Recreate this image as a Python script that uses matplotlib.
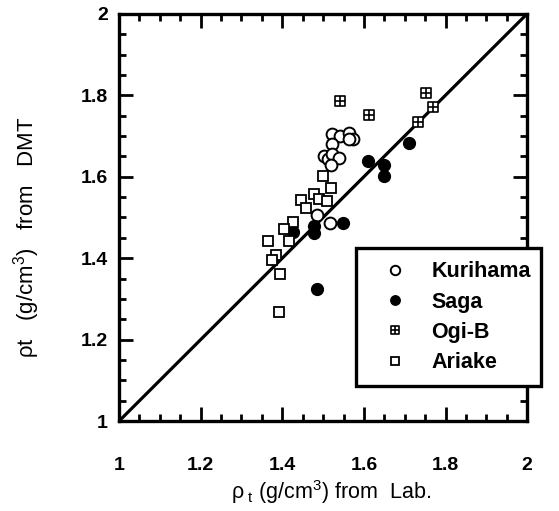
import matplotlib
matplotlib.use("Agg")
import matplotlib.pyplot as plt
import numpy as np
from matplotlib.path import Path

# density pairs: lab value (x) vs DMT estimate (y)
kurihama_lab = [1.523, 1.541, 1.563, 1.573, 1.563, 1.521, 1.501, 1.511, 1.523, 1.538, 1.519, 1.486, 1.516]
kurihama_dmt = [1.705, 1.700, 1.708, 1.693, 1.693, 1.681, 1.651, 1.644, 1.656, 1.646, 1.629, 1.506, 1.486]

saga_lab = [1.711, 1.610, 1.649, 1.649, 1.548, 1.477, 1.477, 1.427, 1.484]
saga_dmt = [1.683, 1.639, 1.629, 1.602, 1.486, 1.479, 1.462, 1.464, 1.324]

ogib_lab = [1.753, 1.770, 1.733, 1.612, 1.541]
ogib_dmt = [1.806, 1.772, 1.735, 1.752, 1.786]

ariake_lab = [1.499, 1.519, 1.477, 1.489, 1.509, 1.447, 1.457, 1.427, 1.405,
              1.417, 1.365, 1.385, 1.375, 1.395, 1.393]
ariake_dmt = [1.602, 1.572, 1.558, 1.545, 1.541, 1.543, 1.523, 1.489, 1.472,
              1.442, 1.442, 1.408, 1.396, 1.361, 1.268]

plt.rcParams.update({
    "font.family": ["Liberation Sans", "DejaVu Sans"],
    "font.size": 14,
    "mathtext.fontset": "custom",
    "mathtext.rm": "Liberation Sans",
    "mathtext.it": "Liberation Sans",
    "mathtext.bf": "Liberation Sans:bold",
    "mathtext.default": "regular",
})

# square with a cross inside
grid_sq = Path(
    [(-1, -1), (1, -1), (1, 1), (-1, 1), (-1, -1), (0, -1), (0, 1), (-1, 0), (1, 0)],
    [Path.MOVETO, Path.LINETO, Path.LINETO, Path.LINETO, Path.CLOSEPOLY,
     Path.MOVETO, Path.LINETO, Path.MOVETO, Path.LINETO],
)

fig = plt.figure(figsize=(5.59, 5.11), dpi=100)
ax = fig.add_axes([0.213, 0.176, 0.730, 0.797])

ax.plot([1, 2], [1, 2], color="black", lw=2.3, zorder=1)

ax.plot(kurihama_lab, kurihama_dmt, "o", ms=8.5, mfc="white", mec="black", mew=1.4, ls="none", label="Kurihama", zorder=3)
ax.plot(saga_lab, saga_dmt, "o", ms=8.5, mfc="black", mec="black", ls="none", label="Saga", zorder=3)
ax.plot(ogib_lab, ogib_dmt, marker=grid_sq, ms=6.5, mfc="white", mec="black", mew=1.2, ls="none", label="Ogi-B", zorder=3)
ax.plot(ariake_lab, ariake_dmt, "s", ms=6.5, mfc="white", mec="black", mew=1.3, ls="none", label="Ariake", zorder=3)

ax.set_xlim(1, 2)
ax.set_ylim(1, 2)
ticks = np.arange(1, 2.01, 0.2)
ax.set_xticks(ticks)
ax.set_yticks(ticks)
ax.set_xticklabels(["1", "1.2", "1.4", "1.6", "1.8", "2"], fontweight="bold")
ax.set_yticklabels(["1", "1.2", "1.4", "1.6", "1.8", "2"], fontweight="bold")
ax.set_xticks(np.arange(1, 2.01, 0.05), minor=True)
ax.set_yticks(np.arange(1, 2.01, 0.05), minor=True)
ax.tick_params(which="both", direction="in", top=True, right=True, width=2)
ax.tick_params(which="major", length=10)
ax.tick_params(which="minor", length=5)
ax.tick_params(axis="x", which="major", pad=26)
ax.tick_params(axis="y", which="major", pad=8)
for sp in ax.spines.values():
    sp.set_linewidth(2.4)

ax.set_xlabel("ρ$_{\\ t}$ (g/cm$^3$) from  Lab.", fontsize=15.5)
ax.xaxis.set_label_coords(0.52, -0.14)
ax.set_ylabel("ρt   (g/cm$^3$)   from   DMT", fontsize=16)
ax.yaxis.set_label_coords(-0.19, 0.45)

# legend box runs past the right spine
leg = ax.legend(loc="lower left", bbox_to_anchor=(0.581, 0.086, 0.453, 0.342), mode="expand",
                borderaxespad=0, fancybox=False, framealpha=1, edgecolor="black",
                markerscale=0.8, handlelength=2.4, handletextpad=0.5, labelspacing=0.43,
                borderpad=0.6, prop={"weight": "bold", "size": 15.5})
leg.get_frame().set_linewidth(2.4)
leg.set_zorder(5)

fig.savefig("out.png", dpi=100)
